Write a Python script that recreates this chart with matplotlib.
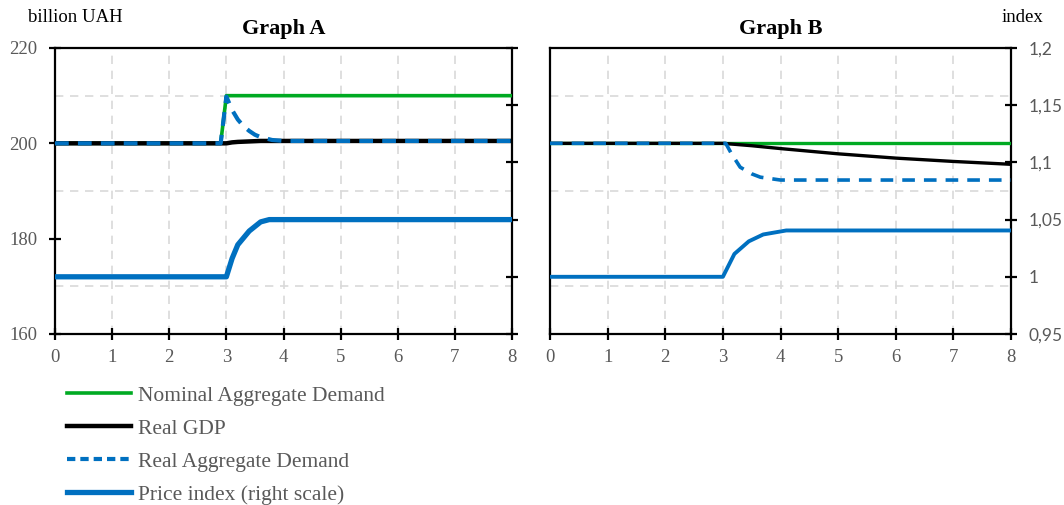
import matplotlib
matplotlib.use('Agg')
import matplotlib.pyplot as plt
from matplotlib.lines import Line2D

# ---- data ----
# Graph A: nominal demand shock
t_nom_a = [0, 2.9, 3.0, 8]
nominal_a = [200, 200, 210, 210]
t_gdp_a = [0, 3.0, 3.1, 3.2, 3.4, 3.6, 4.0, 8]
gdp_a = [200, 200, 200.2, 200.3, 200.4, 200.5, 200.5, 200.5]
t_rad_a = [0, 2.9, 3.0, 3.1, 3.2, 3.3, 3.4, 3.5, 3.6, 3.8, 4.0, 8]
real_ad_a = [200, 200, 209.8, 207.0, 205.0, 203.6, 202.6, 201.8, 201.3, 200.7, 200.5, 200.5]
t_price_a = [0, 3.0, 3.1, 3.2, 3.4, 3.6, 3.75, 8]
price_a = [1.0, 1.0, 1.016, 1.028, 1.040, 1.048, 1.05, 1.05]

# Graph B: price shock
t_nom_b = [0, 8]
nominal_b = [200, 200]
t_gdp_b = [0, 3.0, 3.5, 4, 5, 6, 7, 8]
gdp_b = [200, 200, 199.5, 198.9, 197.8, 196.9, 196.2, 195.6]
t_rad_b = [0, 3.05, 3.15, 3.3, 3.5, 3.65, 4.0, 8]
real_ad_b = [200, 200, 197.8, 195.0, 193.6, 192.9, 192.3, 192.3]
t_price_b = [0, 3.0, 3.2, 3.45, 3.7, 4.1, 8]
price_b = [1.0, 1.0, 1.02, 1.031, 1.037, 1.0405, 1.0405]

series_labels = ['Nominal Aggregate Demand', 'Real GDP', 'Real Aggregate Demand',
                 'Price index (right scale)']
left_ticks = [160, 180, 200, 220]
right_ticks = [0.95, 1.0, 1.05, 1.1, 1.15, 1.2]
right_ticklabels = ['0,95', '1', '1,05', '1,1', '1,15', '1,2']

GREEN = '#00AA22'
BLUE = '#0070C0'
GRAY = '#595959'
SERIF = 'Liberation Serif'
SANS = 'Lato'

fig = plt.figure(figsize=(10.64, 5.05), dpi=100)
W, H = 1064, 505


def make_axes(x0, x1):
    return fig.add_axes([x0 / W, 1 - 334 / H, (x1 - x0) / W, (334 - 48) / H])


def style_base(ax):
    ax.set_xlim(0, 8)
    ax.set_ylim(160, 220)
    ax.set_xticks(range(9))
    ax.set_yticks(left_ticks)
    ax.set_yticks(range(160, 221, 10), minor=True)
    ax.grid(True, which='major', axis='x', color='#D9D9D9', linestyle=(0, (5, 4)), lw=1.2)
    ax.grid(True, which='minor', axis='y', color='#D9D9D9', linestyle=(0, (5, 4)), lw=1.2)
    ax.set_axisbelow(True)
    for s in ax.spines.values():
        s.set_linewidth(1.6)
        s.set_color('black')
    ax.tick_params(axis='both', which='major', direction='inout', length=9, width=1.6,
                   colors='black', labelcolor=GRAY, labelsize=13.5)
    ax.tick_params(axis='y', which='minor', length=0)
    ax.tick_params(axis='x', pad=6)
    ax.tick_params(axis='y', pad=8)
    for lab in ax.get_xticklabels() + ax.get_yticklabels():
        lab.set_family(SERIF)


def style_right(axr, show_labels):
    axr.set_ylim(0.95, 1.2)
    axr.set_yticks(right_ticks)
    axr.tick_params(axis='y', direction='inout', length=9, width=1.6, colors='black',
                    labelcolor=GRAY, labelsize=12.5, pad=8)
    if show_labels:
        axr.set_yticklabels(right_ticklabels, family=SANS)
    else:
        axr.set_yticklabels([])
    for s in axr.spines.values():
        s.set_visible(False)


# ---- Graph A ----
axA = make_axes(55, 512)
style_base(axA)
axA.plot(t_nom_a, nominal_a, color=GREEN, lw=2.6, zorder=3)
axA.plot(t_gdp_a, gdp_a, color='black', lw=3.2, zorder=4)
axA.plot(t_rad_a, real_ad_a, color=BLUE, lw=3, linestyle=(0, (3.3, 2.2)), zorder=5)
axAr = axA.twinx()
style_right(axAr, False)
axAr.plot(t_price_a, price_a, color=BLUE, lw=3.8, zorder=5)
axA.set_title('Graph A', fontsize=16, fontweight='bold', family=SERIF, pad=10)

# ---- Graph B ----
axB = make_axes(550, 1011)
style_base(axB)
axB.set_yticklabels([])
axB.tick_params(axis='y', which='major', length=0)
axB.plot(t_nom_b, nominal_b, color=GREEN, lw=2.4, zorder=3)
axB.plot(t_gdp_b, gdp_b, color='black', lw=2.4, zorder=4)
axB.plot(t_rad_b, real_ad_b, color=BLUE, lw=2.6, linestyle=(0, (3.5, 2.5)), zorder=5)
axBr = axB.twinx()
style_right(axBr, True)
axBr.plot(t_price_b, price_b, color=BLUE, lw=2.8, zorder=5)
axB.set_title('Graph B', fontsize=16, fontweight='bold', family=SERIF, pad=10)

# axis unit labels
fig.text(28 / W, 1 - 18 / H, 'billion UAH', family=SERIF, fontsize=13.5, va='center', ha='left')
fig.text(1043 / W, 1 - 18 / H, 'index', family=SERIF, fontsize=13.5, va='center', ha='right')

# ---- legend ----
handles = [
    Line2D([], [], color=GREEN, lw=2.6),
    Line2D([], [], color='black', lw=3.2),
    Line2D([], [], color=BLUE, lw=3, linestyle=(0, (2, 1.2))),
    Line2D([], [], color=BLUE, lw=3.8),
]
leg = fig.legend(handles, series_labels, loc='upper left',
                 bbox_to_anchor=(58 / W, 1 - 377 / H), frameon=False,
                 prop={'family': SERIF, 'size': 15.5}, handlelength=3.0,
                 handletextpad=0.3, labelspacing=0.6, borderaxespad=0)
for txt in leg.get_texts():
    txt.set_color(GRAY)

fig.savefig('out.png', dpi=100)
